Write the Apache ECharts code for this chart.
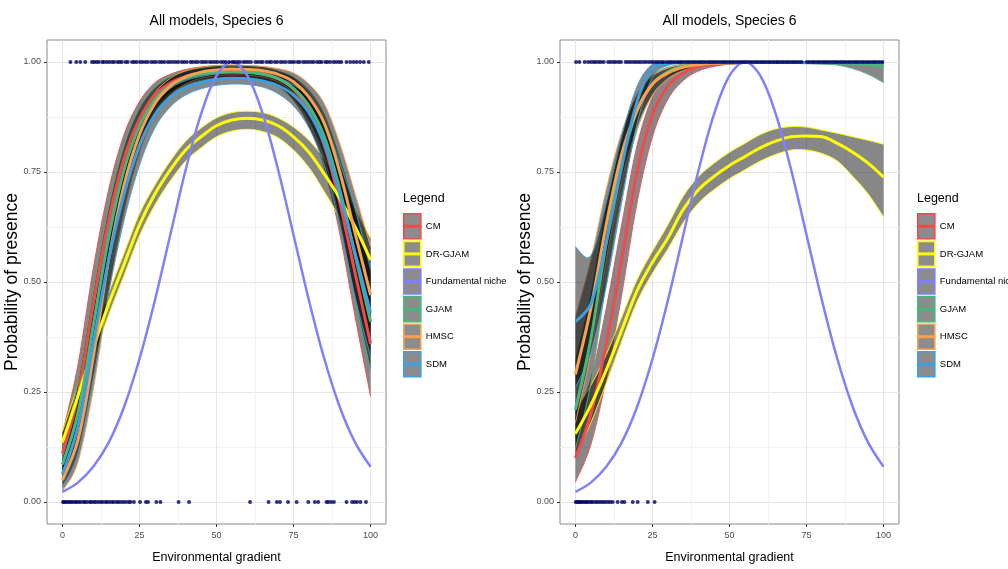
<!DOCTYPE html>
<html>
<head>
<meta charset="utf-8">
<script src="https://cdn.jsdelivr.net/npm/echarts@6/dist/echarts.min.js"></script>
<style>
html, body { margin: 0; padding: 0; background: #ffffff; }
#chart { width: 1008px; height: 569px; }
</style>
</head>
<body>
<div id="chart"></div>
<script>
// Environmental gradient positions where the fitted curves are evaluated
const gradient = [0, 5, 10, 15, 20, 25, 30, 35, 40, 45, 50, 55, 60, 65, 70, 75, 80, 85, 90, 95, 100];

// Axis breaks
const xTicks = [0, 25, 50, 75, 100];
const xMinorTicks = [12.5, 37.5, 62.5, 87.5];
const yTicks = [0, 0.25, 0.5, 0.75, 1];
const yMinorTicks = [0.125, 0.375, 0.625, 0.875];

// Fundamental niche (same in both panels)
const nicheProb = [0.023, 0.044, 0.080, 0.135, 0.216, 0.325, 0.458, 0.607, 0.755, 0.882, 0.969, 1.000, 0.969, 0.882, 0.755, 0.607, 0.458, 0.325, 0.216, 0.135, 0.080];

// ---- Left panel: predicted probability of presence ----
const cmLeftMean = [0.110, 0.240, 0.450, 0.640, 0.780, 0.870, 0.925, 0.952, 0.967, 0.975, 0.979, 0.980, 0.979, 0.974, 0.962, 0.938, 0.890, 0.810, 0.680, 0.520, 0.360];
const cmLeftLo   = [0.065, 0.170, 0.370, 0.570, 0.725, 0.830, 0.897, 0.932, 0.951, 0.961, 0.966, 0.967, 0.966, 0.960, 0.945, 0.913, 0.855, 0.760, 0.610, 0.420, 0.240];
const cmLeftHi   = [0.155, 0.310, 0.530, 0.710, 0.835, 0.910, 0.953, 0.972, 0.983, 0.989, 0.992, 0.993, 0.992, 0.988, 0.979, 0.963, 0.925, 0.860, 0.750, 0.620, 0.480];

const drLeftMean = [0.135, 0.240, 0.350, 0.450, 0.540, 0.630, 0.700, 0.755, 0.800, 0.830, 0.855, 0.868, 0.872, 0.868, 0.855, 0.830, 0.795, 0.745, 0.690, 0.625, 0.550];
const drLeftLo   = [0.110, 0.215, 0.325, 0.425, 0.515, 0.605, 0.675, 0.730, 0.775, 0.805, 0.830, 0.843, 0.847, 0.842, 0.828, 0.800, 0.760, 0.705, 0.645, 0.565, 0.490];
const drLeftHi   = [0.160, 0.265, 0.375, 0.475, 0.565, 0.655, 0.720, 0.775, 0.820, 0.850, 0.873, 0.885, 0.888, 0.885, 0.873, 0.852, 0.822, 0.780, 0.725, 0.665, 0.600];

const gjLeftMean = [0.085, 0.200, 0.400, 0.600, 0.755, 0.855, 0.915, 0.947, 0.963, 0.972, 0.976, 0.977, 0.976, 0.972, 0.962, 0.940, 0.900, 0.830, 0.710, 0.560, 0.410];
const gjLeftLo   = [0.050, 0.140, 0.325, 0.530, 0.700, 0.815, 0.888, 0.927, 0.947, 0.958, 0.963, 0.964, 0.963, 0.958, 0.945, 0.915, 0.865, 0.780, 0.640, 0.460, 0.300];
const gjLeftHi   = [0.125, 0.270, 0.480, 0.670, 0.810, 0.895, 0.942, 0.967, 0.979, 0.986, 0.989, 0.990, 0.989, 0.986, 0.979, 0.965, 0.935, 0.880, 0.780, 0.660, 0.520];

const hmLeftMean = [0.050, 0.140, 0.330, 0.550, 0.720, 0.835, 0.905, 0.945, 0.966, 0.977, 0.982, 0.984, 0.983, 0.980, 0.972, 0.955, 0.920, 0.860, 0.750, 0.610, 0.470];
const hmLeftLo   = [0.025, 0.090, 0.255, 0.475, 0.660, 0.795, 0.877, 0.925, 0.950, 0.963, 0.969, 0.971, 0.970, 0.966, 0.955, 0.930, 0.885, 0.810, 0.680, 0.510, 0.360];
const hmLeftHi   = [0.085, 0.210, 0.410, 0.620, 0.775, 0.870, 0.930, 0.963, 0.980, 0.988, 0.992, 0.993, 0.992, 0.990, 0.985, 0.975, 0.950, 0.905, 0.815, 0.700, 0.580];

const sdLeftMean = [0.063, 0.170, 0.360, 0.550, 0.700, 0.810, 0.880, 0.920, 0.942, 0.953, 0.960, 0.963, 0.962, 0.957, 0.946, 0.925, 0.885, 0.815, 0.700, 0.565, 0.430];
const sdLeftLo   = [0.035, 0.110, 0.280, 0.475, 0.640, 0.765, 0.850, 0.898, 0.925, 0.939, 0.947, 0.950, 0.949, 0.943, 0.928, 0.900, 0.850, 0.765, 0.630, 0.465, 0.330];
const sdLeftHi   = [0.100, 0.240, 0.440, 0.620, 0.755, 0.850, 0.906, 0.940, 0.958, 0.967, 0.973, 0.976, 0.975, 0.971, 0.963, 0.948, 0.918, 0.862, 0.770, 0.665, 0.530];

// ---- Right panel: predicted probability of presence ----
const cmRightMean = [0.100, 0.200, 0.360, 0.550, 0.750, 0.880, 0.945, 0.975, 0.990, 0.995, 0.998, 0.999, 0.999, 0.999, 0.999, 0.999, 0.999, 0.999, 0.999, 0.999, 0.999];
const cmRightLo   = [0.045, 0.130, 0.280, 0.470, 0.680, 0.830, 0.915, 0.958, 0.980, 0.990, 0.995, 0.997, 0.998, 0.998, 0.998, 0.998, 0.998, 0.998, 0.998, 0.998, 0.998];
const cmRightHi   = [0.190, 0.280, 0.440, 0.630, 0.810, 0.920, 0.965, 0.987, 0.995, 0.998, 0.999, 1.000, 1.000, 1.000, 1.000, 1.000, 1.000, 1.000, 1.000, 1.000, 1.000];

const drRightMean = [0.155, 0.220, 0.300, 0.390, 0.480, 0.545, 0.600, 0.665, 0.710, 0.740, 0.765, 0.785, 0.805, 0.820, 0.830, 0.832, 0.830, 0.815, 0.795, 0.770, 0.738];
const drRightLo   = [0.105, 0.180, 0.270, 0.365, 0.455, 0.520, 0.575, 0.635, 0.680, 0.710, 0.735, 0.755, 0.775, 0.790, 0.800, 0.800, 0.792, 0.775, 0.740, 0.700, 0.648];
const drRightHi   = [0.210, 0.265, 0.335, 0.420, 0.505, 0.570, 0.630, 0.695, 0.740, 0.770, 0.795, 0.815, 0.835, 0.848, 0.853, 0.852, 0.845, 0.838, 0.830, 0.822, 0.813];

const gjRightMean = [0.210, 0.370, 0.590, 0.770, 0.890, 0.950, 0.978, 0.990, 0.995, 0.997, 0.998, 0.999, 0.999, 0.999, 0.999, 0.999, 0.999, 0.998, 0.997, 0.995, 0.990];
const gjRightLo   = [0.120, 0.270, 0.500, 0.700, 0.845, 0.925, 0.964, 0.982, 0.990, 0.994, 0.996, 0.997, 0.997, 0.997, 0.997, 0.996, 0.995, 0.993, 0.985, 0.972, 0.953];
const gjRightHi   = [0.320, 0.470, 0.670, 0.830, 0.925, 0.970, 0.988, 0.995, 0.998, 0.999, 0.999, 1.000, 1.000, 1.000, 1.000, 1.000, 1.000, 1.000, 0.999, 0.998, 0.997];

const hmRightMean = [0.290, 0.440, 0.630, 0.790, 0.890, 0.950, 0.975, 0.988, 0.994, 0.997, 0.998, 0.999, 0.999, 0.999, 0.999, 0.999, 0.999, 0.999, 0.999, 0.999, 0.999];
const hmRightLo   = [0.180, 0.340, 0.550, 0.730, 0.850, 0.925, 0.962, 0.980, 0.990, 0.994, 0.996, 0.997, 0.998, 0.998, 0.998, 0.998, 0.998, 0.998, 0.998, 0.998, 0.998];
const hmRightHi   = [0.420, 0.550, 0.710, 0.840, 0.925, 0.968, 0.986, 0.994, 0.997, 0.999, 0.999, 1.000, 1.000, 1.000, 1.000, 1.000, 1.000, 1.000, 1.000, 1.000, 1.000];

const sdRightMean = [0.410, 0.450, 0.590, 0.760, 0.910, 0.985, 0.997, 0.999, 0.999, 0.999, 0.999, 0.999, 0.999, 0.999, 0.999, 0.999, 0.999, 0.999, 0.999, 0.999, 0.999];
const sdRightLo   = [0.260, 0.340, 0.490, 0.680, 0.860, 0.965, 0.992, 0.997, 0.998, 0.998, 0.998, 0.998, 0.998, 0.998, 0.998, 0.998, 0.998, 0.998, 0.998, 0.998, 0.998];
const sdRightHi   = [0.580, 0.560, 0.680, 0.830, 0.945, 0.995, 0.999, 1.000, 1.000, 1.000, 1.000, 1.000, 1.000, 1.000, 1.000, 1.000, 1.000, 1.000, 1.000, 1.000, 1.000];

// ---- Observations (presence at 1, absence at 0) ----
const leftPresence = [2.6, 4.5, 5.8, 7.4, 9.6, 10.3, 11.1, 11.8, 12.9, 13.5, 14.4, 15.2, 16.1, 16.8, 17.9, 18.6, 19.3, 20.5, 21.2, 22.6, 23.3, 24.1, 25.2, 26.0, 26.9, 27.7, 28.8, 29.6, 30.4, 31.5, 32.3, 33.1, 34.2, 35.0, 35.9, 36.8, 37.6, 38.7, 39.5, 40.4, 41.6, 42.3, 43.2, 44.0, 45.1, 45.9, 46.7, 47.8, 48.6, 49.5, 50.3, 51.4, 52.2, 53.0, 54.1, 55.2, 55.9, 56.8, 57.6, 58.7, 59.5, 60.3, 61.2, 62.6, 63.4, 64.3, 65.0, 66.2, 67.1, 67.8, 68.9, 69.7, 70.8, 71.6, 72.5, 73.6, 74.4, 75.2, 76.3, 77.0, 78.1, 78.9, 79.8, 80.7, 81.5, 82.6, 83.4, 84.1, 85.3, 86.0, 86.9, 88.0, 88.8, 89.7, 90.5, 92.2, 93.4, 94.5, 95.5, 96.6, 97.8, 99.4];
const leftAbsence = [0.2, 0.6, 1.1, 1.7, 2.3, 2.8, 3.4, 4.1, 4.6, 5.3, 5.9, 6.8, 7.3, 8.0, 8.9, 9.4, 10.2, 10.8, 11.6, 12.4, 13.0, 13.9, 14.5, 15.3, 16.1, 16.7, 17.6, 18.2, 19.0, 19.8, 20.6, 21.5, 22.1, 23.2, 25.2, 27.1, 27.8, 30.5, 31.8, 37.7, 41.1, 60.9, 66.9, 69.6, 70.6, 73.2, 76.0, 79.8, 81.9, 83.0, 85.7, 86.3, 87.2, 88.1, 92.2, 94.0, 94.8, 95.6, 96.7, 98.5];
const rightPresence = [0.2, 1.3, 3.0, 4.1, 5.0, 5.9, 6.6, 7.5, 8.3, 9.2, 10.6, 11.4, 12.3, 13.1, 14.0, 14.8, 16.3, 17.1, 17.9, 18.8, 19.6, 20.4, 21.2, 22.1, 22.9, 23.8, 24.6, 25.4, 26.3, 27.1, 28.0, 28.7, 29.7, 30.5, 31.3, 32.2, 33.1, 33.9, 34.6, 35.5, 36.4, 37.2, 38.1, 38.9, 39.8, 40.6, 41.4, 42.3, 43.2, 44.0, 44.8, 45.6, 46.5, 47.4, 48.2, 49.0, 49.9, 50.7, 51.5, 52.4, 53.3, 54.1, 54.9, 55.7, 56.6, 57.4, 58.3, 59.1, 60.0, 60.8, 61.6, 62.5, 63.3, 64.2, 65.1, 65.8, 66.7, 67.5, 68.4, 69.2, 70.1, 70.9, 71.7, 72.6, 73.4, 75.1, 75.9, 76.8, 77.6, 78.5, 79.3, 80.2, 81.0, 81.8, 82.7, 83.6, 84.4, 85.2, 86.1, 86.9, 87.7, 88.6, 89.4, 90.3, 91.1, 91.9, 92.8, 93.6, 94.5, 95.3, 96.2, 97.0, 97.8, 98.7, 99.6];
const rightAbsence = [0.1, 0.5, 0.9, 1.4, 1.8, 2.3, 2.9, 3.4, 3.9, 4.5, 5.1, 5.6, 6.4, 7.0, 7.7, 8.4, 9.1, 9.8, 10.6, 11.3, 12.1, 13.7, 15.1, 15.9, 18.6, 20.2, 23.5, 25.7];

// Labels
const panelTitle = 'All models, Species 6';
const xTitle = 'Environmental gradient';
const yTitle = 'Probability of presence';
const legendTitle = 'Legend';
const legendNames = ['CM', 'DR-GJAM', 'Fundamental niche', 'GJAM', 'HMSC', 'SDM'];
const modelColors = {
  'CM': '#F7474A',
  'DR-GJAM': '#FFFF00',
  'Fundamental niche': '#8080FF',
  'GJAM': '#45B97A',
  'HMSC': '#FBA04E',
  'SDM': '#3C9FDF'
};

const FONT = "'Liberation Sans', Arial, Helvetica, sans-serif";

const pairs = (ys) => gradient.map((x, i) => [x, ys[i]]);
const bandRows = (lo, hi) => gradient.map((x, i) => [x, lo[i], hi[i]]);

// Catmull-Rom curve through pixel points, written as cubic Bezier path commands
function curvePath(pts, startWithMove) {
  let d = (startWithMove ? 'M' : 'L') + pts[0][0] + ',' + pts[0][1];
  for (let i = 0; i < pts.length - 1; i++) {
    const p0 = pts[Math.max(i - 1, 0)];
    const p1 = pts[i];
    const p2 = pts[i + 1];
    const p3 = pts[Math.min(i + 2, pts.length - 1)];
    const c1x = p1[0] + (p2[0] - p0[0]) / 6;
    const c1y = p1[1] + (p2[1] - p0[1]) / 6;
    const c2x = p2[0] - (p3[0] - p1[0]) / 6;
    const c2y = p2[1] - (p3[1] - p1[1]) / 6;
    d += ' C' + c1x + ',' + c1y + ' ' + c2x + ',' + c2y + ' ' + p2[0] + ',' + p2[1];
  }
  return d;
}

// Confidence ribbon: grey translucent fill bounded by thin coloured edges
function ribbonRenderer(color) {
  return function (params, api) {
    if (params.dataIndex !== 0) return null;
    const n = params.dataInsideLength;
    const upper = [];
    const lower = [];
    for (let i = 0; i < n; i++) {
      const x = api.value(0, i);
      upper.push(api.coord([x, api.value(2, i)]));
      lower.push(api.coord([x, api.value(1, i)]));
    }
    const lowerBack = lower.slice().reverse();
    const area = curvePath(upper, true) + ' ' + curvePath(lowerBack, false) + ' Z';
    return {
      type: 'group',
      children: [
        { type: 'path', shape: { pathData: area }, style: { fill: 'rgba(0,0,0,0.47)', stroke: 'none' } },
        { type: 'path', shape: { pathData: curvePath(upper, true) }, style: { fill: 'none', stroke: color, lineWidth: 0.9 } },
        { type: 'path', shape: { pathData: curvePath(lower, true) }, style: { fill: 'none', stroke: color, lineWidth: 0.9 } }
      ]
    };
  };
}

const panels = [
  {
    models: [
      { name: 'CM', mean: cmLeftMean, lo: cmLeftLo, hi: cmLeftHi },
      { name: 'DR-GJAM', mean: drLeftMean, lo: drLeftLo, hi: drLeftHi },
      { name: 'GJAM', mean: gjLeftMean, lo: gjLeftLo, hi: gjLeftHi },
      { name: 'HMSC', mean: hmLeftMean, lo: hmLeftLo, hi: hmLeftHi },
      { name: 'SDM', mean: sdLeftMean, lo: sdLeftLo, hi: sdLeftHi }
    ],
    presence: leftPresence,
    absence: leftAbsence
  },
  {
    models: [
      { name: 'CM', mean: cmRightMean, lo: cmRightLo, hi: cmRightHi },
      { name: 'DR-GJAM', mean: drRightMean, lo: drRightLo, hi: drRightHi },
      { name: 'GJAM', mean: gjRightMean, lo: gjRightLo, hi: gjRightHi },
      { name: 'HMSC', mean: hmRightMean, lo: hmRightLo, hi: hmRightHi },
      { name: 'SDM', mean: sdRightMean, lo: sdRightLo, hi: sdRightHi }
    ],
    presence: rightPresence,
    absence: rightAbsence
  }
];

// Layout of the two facets
const gridBoxes = [
  { left: 47, top: 40, width: 339, height: 487, legendLeft: 403 },
  { left: 560, top: 40, width: 339, height: 487, legendLeft: 917 }
];

const grids = [];
const xAxes = [];
const yAxes = [];
const series = [];
const titles = [];
const legends = [];

gridBoxes.forEach((g, gi) => {
  grids.push({
    left: g.left, top: g.top, width: g.width, height: g.height,
    show: true, borderColor: '#8a8a8a', borderWidth: 1, backgroundColor: '#ffffff'
  });

  // main axes (ticks, labels, major grid)
  xAxes.push({
    type: 'value', gridIndex: gi, min: -5, max: 105, position: 'bottom',
    axisLine: { show: false, onZero: false },
    axisTick: { show: true, length: 3, lineStyle: { color: '#333333' }, customValues: xTicks },
    axisLabel: { customValues: xTicks, color: '#4d4d4d', fontSize: 9, fontFamily: FONT, margin: 7 },
    splitLine: { show: true, lineStyle: { color: '#e6e6e6', width: 1 } },
    name: xTitle, nameLocation: 'middle', nameGap: 27, nameMoveOverlap: false,
    nameTextStyle: { color: '#000000', fontSize: 12.5, fontFamily: FONT }
  });
  // minor grid
  xAxes.push({
    type: 'value', gridIndex: gi, min: -5, max: 105, position: 'bottom',
    axisLine: { show: false, onZero: false },
    axisTick: { show: false, customValues: xMinorTicks },
    axisLabel: { show: false },
    splitLine: { show: true, lineStyle: { color: '#f2f2f2', width: 1 } }
  });
  yAxes.push({
    type: 'value', gridIndex: gi, min: -0.05, max: 1.05, position: 'left',
    axisLine: { show: false, onZero: false },
    axisTick: { show: true, length: 3, lineStyle: { color: '#333333' }, customValues: yTicks },
    axisLabel: { customValues: yTicks, color: '#4d4d4d', fontSize: 9, fontFamily: FONT, margin: 6,
      formatter: (v) => Number(v).toFixed(2) },
    splitLine: { show: true, lineStyle: { color: '#e6e6e6', width: 1 } },
    name: yTitle, nameLocation: 'middle', nameRotate: 90, nameGap: 26, nameMoveOverlap: false,
    nameTextStyle: { color: '#000000', fontSize: 17.5, fontFamily: FONT }
  });
  yAxes.push({
    type: 'value', gridIndex: gi, min: -0.05, max: 1.05, position: 'left',
    axisLine: { show: false, onZero: false },
    axisTick: { show: false, customValues: yMinorTicks },
    axisLabel: { show: false },
    splitLine: { show: true, lineStyle: { color: '#f2f2f2', width: 1 } }
  });

  const xi = gi * 2;
  const yi = gi * 2;
  const p = panels[gi];

  // confidence ribbons
  p.models.forEach((m) => {
    series.push({
      type: 'custom', name: m.name + ' interval', coordinateSystem: 'cartesian2d',
      xAxisIndex: xi, yAxisIndex: yi,
      dimensions: ['x', 'lower', 'upper'],
      encode: { x: 0, y: [1, 2] },
      data: bandRows(m.lo, m.hi),
      renderItem: ribbonRenderer(modelColors[m.name]),
      clip: true, silent: true, z: 2
    });
  });

  // fitted mean curves
  p.models.forEach((m) => {
    series.push({
      type: 'line', name: m.name, xAxisIndex: xi, yAxisIndex: yi,
      data: pairs(m.mean), smooth: 0.35, symbol: 'none',
      lineStyle: { color: modelColors[m.name], width: 3 },
      itemStyle: { color: modelColors[m.name] },
      silent: true, z: 3, emphasis: { disabled: true }
    });
  });

  series.push({
    type: 'line', name: 'Fundamental niche', xAxisIndex: xi, yAxisIndex: yi,
    data: pairs(nicheProb), smooth: 0.35, symbol: 'none',
    lineStyle: { color: modelColors['Fundamental niche'], width: 2.5 },
    itemStyle: { color: modelColors['Fundamental niche'] },
    silent: true, z: 4, emphasis: { disabled: true }
  });

  // observations
  series.push({
    type: 'scatter', name: 'observations', xAxisIndex: xi, yAxisIndex: yi,
    data: p.presence.map((x) => [x, 1]).concat(p.absence.map((x) => [x, 0])),
    symbol: 'circle', symbolSize: 4,
    itemStyle: { color: '#000066' }, silent: true, z: 5,
    emphasis: { disabled: true }
  });

  titles.push({
    text: panelTitle, left: g.left + g.width / 2, top: 14, textAlign: 'center', padding: 0,
    textStyle: { color: '#000000', fontSize: 14, fontWeight: 'normal', fontFamily: FONT }
  });
  titles.push({
    text: legendTitle, left: g.legendLeft, top: 192, padding: 0,
    textStyle: { color: '#000000', fontSize: 12.5, fontWeight: 'normal', fontFamily: FONT }
  });

  // legend keys: grey box with coloured border (item pitch 27.6 px incl. border) ...
  legends.push({
    orient: 'vertical', left: g.legendLeft, top: 213, padding: 0,
    itemWidth: 17, itemHeight: 25, itemGap: 1, selectedMode: false, icon: 'rect',
    data: legendNames.map((n) => ({
      name: n,
      itemStyle: { color: '#8c8c8c', borderColor: modelColors[n], borderWidth: 1.6 }
    })),
    textStyle: { color: '#000000', fontSize: 9.5, fontFamily: FONT }
  });
  // ... and the coloured bar across the middle of each key (same pitch)
  legends.push({
    orient: 'vertical', left: g.legendLeft, top: 224.8, padding: 0,
    itemWidth: 17, itemHeight: 3, itemGap: 24.6, selectedMode: false, icon: 'rect',
    data: legendNames.map((n) => ({
      name: n,
      itemStyle: { color: modelColors[n], borderWidth: 0 }
    })),
    formatter: () => '',
    textStyle: { color: 'rgba(0,0,0,0)', fontSize: 1, lineHeight: 1 }
  });
});

const chart = echarts.init(document.getElementById('chart'), null, { renderer: 'canvas' });
chart.setOption({
  animation: false,
  backgroundColor: '#ffffff',
  title: titles,
  legend: legends,
  grid: grids,
  xAxis: xAxes,
  yAxis: yAxes,
  series: series
});
</script>
</body>
</html>
